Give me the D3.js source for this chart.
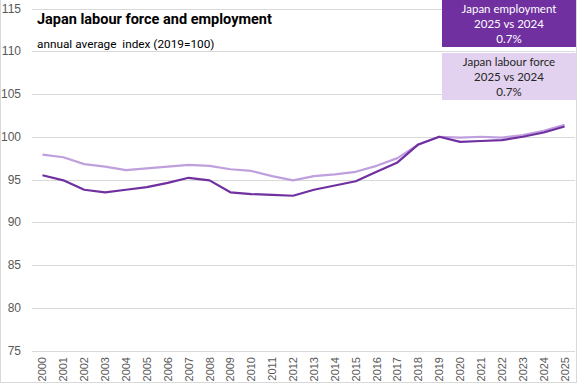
<!DOCTYPE html>
<html>
<head>
<meta charset="utf-8">
<script src="https://cdn.jsdelivr.net/npm/d3@7"></script>
<style>
  body { margin: 0; background: #fff; }
</style>
</head>
<body>
<div id="myDiv"></div>
<script>
// data
var years = ["2000","2001","2002","2003","2004","2005","2006","2007","2008","2009","2010","2011","2012",
             "2013","2014","2015","2016","2017","2018","2019","2020","2021","2022","2023","2024","2025"];
var employment = [95.5, 94.9, 93.8, 93.5, 93.8, 94.1, 94.6, 95.2, 94.9, 93.5, 93.3, 93.2, 93.1,
                  93.8, 94.3, 94.8, 95.9, 97.0, 99.1, 100.0, 99.4, 99.5, 99.6, 100.0, 100.5, 101.2];
var labourForce = [97.9, 97.6, 96.8, 96.5, 96.1, 96.3, 96.5, 96.7, 96.6, 96.2, 96.0, 95.4, 94.9,
                   95.4, 95.6, 95.9, 96.6, 97.5, 99.1, 100.0, 99.9, 100.0, 99.9, 100.2, 100.7, 101.4];
var yTicks = [75, 80, 85, 90, 95, 100, 105, 110, 115];
var empLabel = ["Japan employment", "2025 vs 2024", "0.7%"];
var lfLabel = ["Japan labour force", "2025 vs 2024", "0.7%"];

var width = 577;
var height = 385;
var svg = d3.select("#myDiv")
    .append("svg")
    .attr("width", width)
    .attr("height", height);

// chart border
svg.append("rect")
    .attr("x", 0.5).attr("y", -1)
    .attr("width", width - 1).attr("height", height - 1.5)
    .attr("fill", "none")
    .attr("stroke", "#d9d9d9");

var x = d3.scaleBand()
    .domain(years)
    .range([32, 575]);

var y = d3.scaleLinear()
    .domain([75, 115])
    .range([350.5, 8.5]);

var axisFont = "'Liberation Sans', Arial, sans-serif";

// gridlines
svg.selectAll("line.grid")
    .data(yTicks)
    .enter()
    .append("line")
    .attr("class", "grid")
    .attr("x1", 32).attr("x2", 575)
    .attr("y1", d => Math.round(y(d)) + 0.5)
    .attr("y2", d => Math.round(y(d)) + 0.5)
    .attr("stroke", "#d9d9d9")
    .attr("stroke-width", 1);

// y labels
svg.selectAll("text.ylab")
    .data(yTicks)
    .enter()
    .append("text")
    .attr("class", "ylab")
    .attr("x", 21)
    .attr("y", d => y(d) + 4)
    .attr("text-anchor", "end")
    .style("font-family", axisFont)
    .attr("font-size", 12)
    .attr("fill", "#595959")
    .text(d => d);

// x labels
svg.selectAll("text.xlab")
    .data(years)
    .enter()
    .append("text")
    .attr("class", "xlab")
    .attr("transform", d => "translate(" + (x(d) + x.bandwidth() / 2 + 4) + ",357) rotate(-90)")
    .attr("text-anchor", "end")
    .style("font-family", axisFont)
    .attr("font-size", 11)
    .attr("fill", "#595959")
    .text(d => d);

var line = d3.line()
    .x((d, i) => x(years[i]) + x.bandwidth() / 2)
    .y(d => y(d));

svg.append("path")
    .datum(labourForce)
    .attr("d", line)
    .attr("fill", "none")
    .attr("stroke", "#bf9fdd")
    .attr("stroke-width", 2.2)
    .attr("stroke-linejoin", "round");

svg.append("path")
    .datum(employment)
    .attr("d", line)
    .attr("fill", "none")
    .attr("stroke", "#7030a0")
    .attr("stroke-width", 2.2)
    .attr("stroke-linejoin", "round");

// title
svg.append("text")
    .attr("x", 37).attr("y", 24)
    .style("font-family", "Roboto, sans-serif")
    .attr("font-size", 14.5)
    .attr("font-weight", "bold")
    .attr("fill", "#000")
    .text("Japan labour force and employment");

svg.append("text")
    .attr("x", 37).attr("y", 48)
    .style("font-family", "Roboto, sans-serif")
    .style("white-space", "pre")
    .attr("font-size", 11.8)
    .attr("fill", "#000")
    .text("annual average  index (2019=100)");

// callout boxes
function callout(lines, top, fill, color) {
    svg.append("rect")
        .attr("x", 442).attr("y", top)
        .attr("width", 134).attr("height", 47)
        .attr("fill", fill);
    svg.selectAll(null)
        .data(lines)
        .enter()
        .append("text")
        .attr("x", 509)
        .attr("y", (d, i) => top + 13 + i * 15)
        .attr("text-anchor", "middle")
        .style("font-family", "Lato, sans-serif")
        .attr("font-size", 11.5)
        .attr("fill", color)
        .text(d => d);
}
callout(empLabel, 0, "#7030a0", "#ffffff");
callout(lfLabel, 53, "#e2d2f0", "#262626");
</script>
</body>
</html>
